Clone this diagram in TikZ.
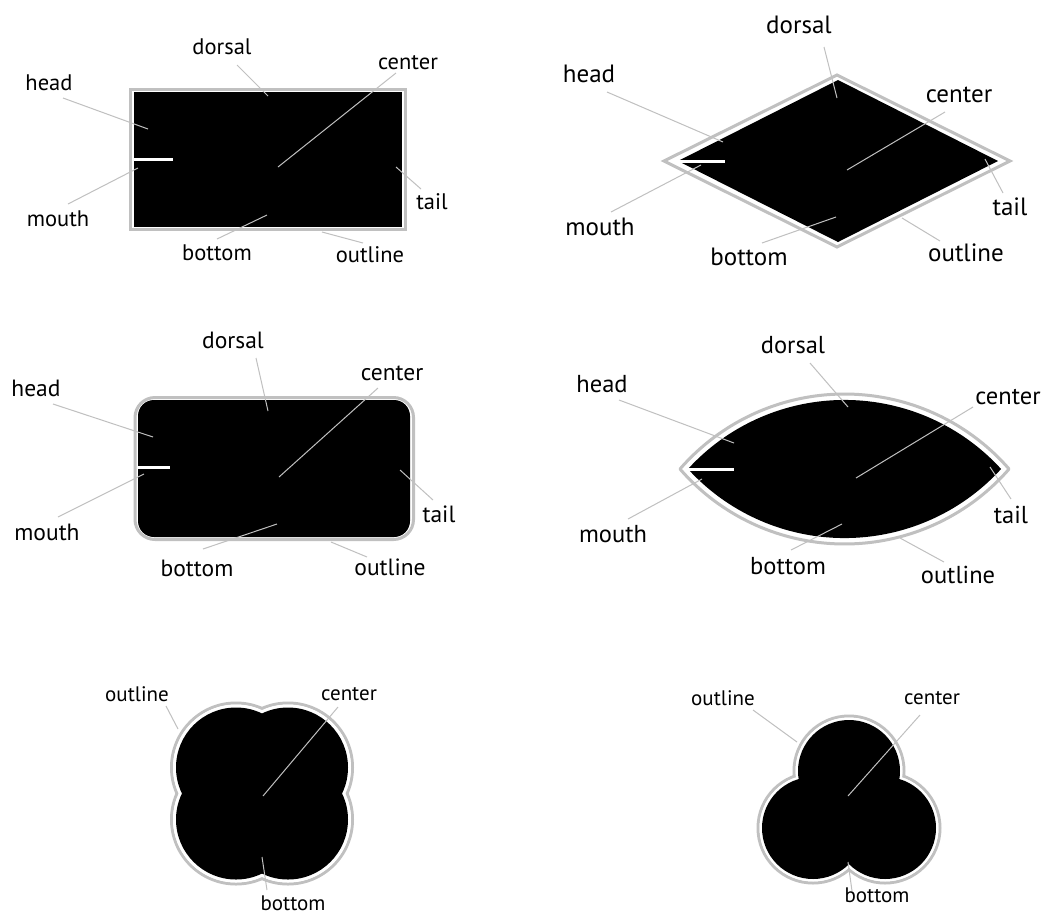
\documentclass[tikz,border=0pt]{standalone}
\usepackage{fontspec}
\setmainfont{PT Sans}
\definecolor{lgray}{RGB}{192,192,192}
\tikzset{
  body/.style={fill=black},
  outl/.style={draw=lgray, line width=3pt, line join=round},
  lead/.style={draw=lgray, line width=1pt},
  mouthl/.style={draw=white, line width=3pt},
  lbl/.style={inner sep=0pt, anchor=center},
}
\newcommand{\fsA}{\fontsize{22.5}{24}\selectfont}
\newcommand{\fsB}{\fontsize{25}{27}\selectfont}
\newcommand{\fsC}{\fontsize{23.5}{25}\selectfont}
\newcommand{\fsD}{\fontsize{24.5}{26}\selectfont}
\newcommand{\fsE}{\fontsize{21}{23}\selectfont}
\begin{document}
\begin{tikzpicture}[x=1pt,y=-1pt]
\useasboundingbox[fill=white] (0,0) rectangle (1045,914);

% ---------- Panel 1: rectangle ----------
\fill[body] (134,92) rectangle (402,227);
\draw[outl, line join=miter] (130.5,89.5) rectangle (405.5,229.5);
\coordinate (m1a) at (134,159); \coordinate (m1b) at (173,159);
\draw[mouthl] (m1a) -- (m1b);
\begin{scope}[every node/.append style={font=\fsA}]
\node[lbl] (d1) at (222,47) {dorsal};
\node[lbl] (c1) at (408,63) {center};
\node[lbl] (h1) at (49,83) {head};
\node[lbl] (mo1) at (58,219) {mouth};
\node[lbl] (t1) at (432,202) {tail};
\node[lbl] (b1) at (217,253) {bottom};
\node[lbl] (o1) at (370,255) {outline};
\end{scope}
\coordinate (d1a) at (237,65);  \coordinate (d1b) at (268,96);
\coordinate (c1a) at (396,73);  \coordinate (c1b) at (278,167);
\coordinate (h1a) at (63,98);   \coordinate (h1b) at (148,129);
\coordinate (mo1a) at (68,204); \coordinate (mo1b) at (138,168);
\coordinate (t1a) at (421,189); \coordinate (t1b) at (396,167);
\coordinate (b1a) at (217,239); \coordinate (b1b) at (267,215);
\coordinate (o1a) at (363,243); \coordinate (o1b) at (322,232);
\foreach \n in {d1,c1,h1,mo1,t1,b1,o1} \draw[lead] (\n a) -- (\n b);

% ---------- Panel 2: diamond ----------
\fill[body] (678,161) -- (838,80) -- (998,161) -- (838,242) -- cycle;
\draw[outl, line join=miter] (664,161) -- (837,75) -- (1010,161) -- (837,247) -- cycle;
\coordinate (m2a) at (678,161); \coordinate (m2b) at (725,161);
\draw[mouthl] (m2a) -- (m2b);
\begin{scope}[every node/.append style={font=\fsB}]
\node[lbl] (d2) at (799,25) {dorsal};
\node[lbl] (h2) at (589,74) {head};
\node[lbl] (c2) at (959,95) {center};
\node[lbl] (mo2) at (600,227) {mouth};
\node[lbl] (t2) at (1010,207) {tail};
\node[lbl] (b2) at (749,257) {bottom};
\node[lbl] (o2) at (966,253) {outline};
\end{scope}
\coordinate (d2a) at (824,47);  \coordinate (d2b) at (837,98);
\coordinate (h2a) at (607,92);  \coordinate (h2b) at (723,142);
\coordinate (c2a) at (945,112); \coordinate (c2b) at (847,170);
\coordinate (mo2a) at (611,212);\coordinate (mo2b) at (701,165);
\coordinate (t2a) at (1003,193);\coordinate (t2b) at (985,159);
\coordinate (b2a) at (762,243); \coordinate (b2b) at (836,217);
\coordinate (o2a) at (940,241); \coordinate (o2b) at (902,218);
\foreach \n in {d2,c2,h2,mo2,t2,b2,o2} \draw[lead] (\n a) -- (\n b);

% ---------- Panel 3: rounded rectangle ----------
\fill[body, rounded corners=16pt] (138,400) rectangle (410,537);
\draw[outl, rounded corners=20pt] (135,397.5) rectangle (413.5,539.5);
\coordinate (m3a) at (138,467); \coordinate (m3b) at (170,467);
\draw[mouthl] (m3a) -- (m3b);
\begin{scope}[every node/.append style={font=\fsC}]
\node[lbl] (d3) at (233,340) {dorsal};
\node[lbl] (h3) at (36,388) {head};
\node[lbl] (c3) at (392,373) {center};
\node[lbl] (mo3) at (47,532) {mouth};
\node[lbl] (t3) at (439,514) {tail};
\node[lbl] (b3) at (197,568) {bottom};
\node[lbl] (o3) at (390,567) {outline};
\end{scope}
\coordinate (d3a) at (256,358); \coordinate (d3b) at (268,411);
\coordinate (h3a) at (53,404);  \coordinate (h3b) at (153,437);
\coordinate (c3a) at (378,388); \coordinate (c3b) at (279,477);
\coordinate (mo3a) at (58,517); \coordinate (mo3b) at (144,474);
\coordinate (t3a) at (433,500); \coordinate (t3b) at (400,470);
\coordinate (b3a) at (203,549); \coordinate (b3b) at (277,524);
\coordinate (o3a) at (367,557); \coordinate (o3b) at (331,542);
\foreach \n in {d3,c3,h3,mo3,t3,b3,o3} \draw[lead] (\n a) -- (\n b);

% ---------- Panel 4: lens ----------
\fill[body] (688,469) arc[start angle=222.4, end angle=317.6, radius=212]
  arc[start angle=42.4, end angle=137.6, radius=212] -- cycle;
\draw[outl] (680,469) arc[start angle=221, end angle=319, radius=218]
  arc[start angle=41, end angle=139, radius=218] -- cycle;
\coordinate (m4a) at (688,469); \coordinate (m4b) at (734,469);
\draw[mouthl] (m4a) -- (m4b);
\begin{scope}[every node/.append style={font=\fsD}]
\node[lbl] (d4) at (793,345) {dorsal};
\node[lbl] (h4) at (602,384) {head};
\node[lbl] (c4) at (1008,397) {center};
\node[lbl] (mo4) at (613,534) {mouth};
\node[lbl] (t4) at (1011,515) {tail};
\node[lbl] (b4) at (788,566) {bottom};
\node[lbl] (o4) at (958,575) {outline};
\end{scope}
\coordinate (d4a) at (810,363); \coordinate (d4b) at (848,407);
\coordinate (h4a) at (619,400); \coordinate (h4b) at (734,443);
\coordinate (c4a) at (973,407); \coordinate (c4b) at (856,478);
\coordinate (mo4a) at (628,519);\coordinate (mo4b) at (702,479);
\coordinate (t4a) at (1011,499);\coordinate (t4b) at (990,467);
\coordinate (b4a) at (791,550); \coordinate (b4b) at (842,524);
\coordinate (o4a) at (944,562); \coordinate (o4b) at (900,538);
\foreach \n in {d4,c4,h4,mo4,t4,b4,o4} \draw[lead] (\n a) -- (\n b);

% ---------- Panel 5: four lobes ----------
\foreach \p in {(236,767.5),(288,767.5),(236,819.5),(288,819.5)}
  \draw[outl] \p circle[radius=64.5];
\foreach \p in {(236,767.5),(288,767.5),(236,819.5),(288,819.5)}
  \fill[white] \p circle[radius=63];
\foreach \p in {(236,767.5),(288,767.5),(236,819.5),(288,819.5)}
  \fill[body] \p circle[radius=60];
\begin{scope}[every node/.append style={font=\fsE}]
\node[lbl] (o5) at (137,694) {outline};
\node[lbl] (c5) at (349,694) {center};
\node[lbl] (b5) at (293,903) {bottom};
\end{scope}
\coordinate (o5a) at (166,706); \coordinate (o5b) at (178,729);
\coordinate (c5a) at (338,707); \coordinate (c5b) at (263,796);
\coordinate (b5a) at (267,890); \coordinate (b5b) at (262,857);
\foreach \n in {o5,c5,b5} \draw[lead] (\n a) -- (\n b);

% ---------- Panel 6: three lobes ----------
\foreach \p in {(849,771),(813,828),(885,828)}
  \draw[outl] \p circle[radius=55];
\foreach \p in {(849,771),(813,828),(885,828)}
  \fill[white] \p circle[radius=53.5];
\foreach \p in {(849,771),(813,828),(885,828)}
  \fill[body] \p circle[radius=51];
\begin{scope}[every node/.append style={font=\fsE}]
\node[lbl] (o6) at (723,698) {outline};
\node[lbl] (c6) at (932,698) {center};
\node[lbl] (b6) at (877,895) {bottom};
\end{scope}
\coordinate (o6a) at (753,710); \coordinate (o6b) at (797,742);
\coordinate (c6a) at (920,715); \coordinate (c6b) at (848,796);
\coordinate (b6a) at (852,891); \coordinate (b6b) at (848,862);
\foreach \n in {o6,c6,b6} \draw[lead] (\n a) -- (\n b);
\end{tikzpicture}
\end{document}
